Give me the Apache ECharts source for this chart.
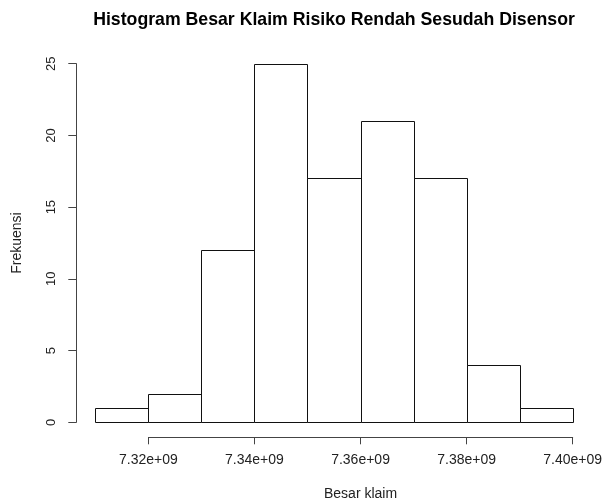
<!DOCTYPE html>
<html><head><meta charset="utf-8">
<script src="https://cdn.jsdelivr.net/npm/echarts@6/dist/echarts.min.js"></script>
<style>html,body{margin:0;padding:0;background:#fff}#c{width:606px;height:501px}</style>
</head><body><div id="c"></div>
<script>
const binStarts = [7.31e9, 7.32e9, 7.33e9, 7.34e9, 7.35e9, 7.36e9, 7.37e9, 7.38e9, 7.39e9];
const binEnds   = [7.32e9, 7.33e9, 7.34e9, 7.35e9, 7.36e9, 7.37e9, 7.38e9, 7.39e9, 7.40e9];
const counts    = [1, 2, 12, 25, 17, 21, 17, 4, 1];
const xTicks    = [7.32e9, 7.34e9, 7.36e9, 7.38e9, 7.40e9];
const yTicks    = [0, 5, 10, 15, 20, 25];

const FONT = 'Liberation Sans, Arial, sans-serif';
const chart = echarts.init(document.getElementById('c'), null, {renderer: 'canvas'});
const data = binStarts.map((s, i) => [s, binEnds[i], counts[i]]);

chart.setOption({
  animation: false,
  backgroundColor: '#fff',
  title: {
    text: 'Histogram Besar Klaim Risiko Rendah Sesudah Disensor',
    left: 329, top: 6, textAlign: 'center',
    textStyle: {fontFamily: FONT, fontSize: 17.7, fontWeight: 'bold', color: '#000'}
  },
  grid: [
    {left: 95.3, width: 477.4, top: 63.7, bottom: 78.7, containLabel: false, outerBoundsMode: 'none'},
    {left: 148.4, width: 424.3, top: 63.7, bottom: 63.7, containLabel: false, outerBoundsMode: 'none'}
  ],
  xAxis: [
    {type: 'value', gridIndex: 0, min: binStarts[0], max: binEnds[binEnds.length - 1], show: false},
    {type: 'value', gridIndex: 1, min: xTicks[0], max: xTicks[xTicks.length - 1], interval: 2e7,
     position: 'bottom',
     axisLine: {show: true, onZero: false, lineStyle: {color: '#444', width: 1}},
     axisTick: {show: true, length: 7, lineStyle: {color: '#444', width: 1}},
     splitLine: {show: false},
     axisLabel: {margin: 16, fontFamily: FONT, fontSize: 14, color: '#222',
       formatter: v => (v / 1e9).toFixed(2) + 'e+09'},
     name: 'Besar klaim', nameLocation: 'middle', nameGap: 50,
     nameTextStyle: {fontFamily: FONT, fontSize: 14, color: '#222'}}
  ],
  yAxis: [
    {type: 'value', gridIndex: 0, min: yTicks[0], max: yTicks[yTicks.length - 1], interval: 5,
     position: 'left', offset: 19,
     axisLine: {show: true, lineStyle: {color: '#444', width: 1}},
     axisTick: {show: true, length: 8, lineStyle: {color: '#444', width: 1}},
     splitLine: {show: false},
     axisLabel: {rotate: 90, margin: 18, fontFamily: FONT, fontSize: 13, color: '#222'},
     name: 'Frekuensi', nameLocation: 'middle', nameGap: 52, nameRotate: 90,
     nameTextStyle: {fontFamily: FONT, fontSize: 14, color: '#222'}},
    {type: 'value', gridIndex: 1, min: 0, max: 25, show: false}
  ],
  series: [{
    type: 'custom',
    xAxisIndex: 0, yAxisIndex: 0,
    data: data,
    renderItem: function (params, api) {
      const p0 = api.coord([api.value(0), api.value(2)]);
      const p1 = api.coord([api.value(1), 0]);
      const x0 = Math.round(p0[0]) + 0.5, x1 = Math.round(p1[0]) + 0.5;
      const y0 = Math.round(p0[1]) + 0.5, y1 = Math.round(p1[1]) + 0.5;
      return {type: 'rect', shape: {x: x0, y: y0, width: x1 - x0, height: y1 - y0},
              style: {fill: '#fff', stroke: '#111', lineWidth: 1}};
    }
  }]
});
</script></body></html>
